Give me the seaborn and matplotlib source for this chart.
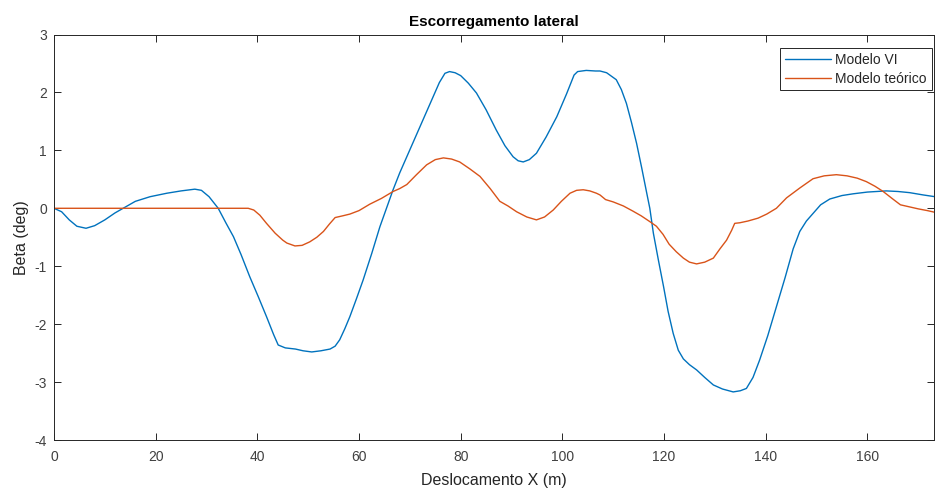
import matplotlib
matplotlib.use("Agg")
import matplotlib.pyplot as plt
import seaborn as sns
import pandas as pd

# ---- data ----
x_vi = [0, 1.5, 3, 4.5, 6.3, 8, 10, 12, 13.6, 16, 18.9, 22.2, 25, 27.7, 29, 30.5,
        32.3, 33.8, 35.3, 36.8, 38.5, 40.2, 41.8, 43.2, 44.1, 45.5, 47.5, 49, 50.7,
        52.5, 54.3, 55.3, 56.2, 57.2, 58.2, 59.5, 60.8, 62.5, 64.1, 65.4, 66.7, 68,
        69.4, 70.7, 72, 73.3, 74.6, 75.8, 76.9, 77.8, 78.9, 80, 81.5, 83.1, 85, 87,
        88.7, 90.3, 91.3, 92.3, 93.5, 94.9, 96.8, 98.9, 100.8, 102.3, 103, 104.7,
        106.5, 107.4, 108.7, 110.6, 111.6, 112.6, 113.6, 114.6, 115.6, 116.6, 117.2,
        117.9, 118.9, 119.9, 120.8, 121.8, 122.8, 123.8, 125, 126.4, 128, 129.7,
        131.5, 133.6, 135, 136.2, 137.5, 138.8, 140.4, 142.1, 143.8, 145.4, 146.7,
        148, 149.3, 150.8, 152.6, 155, 157.2, 160, 163.7, 166, 168.3, 171, 173.3]
y_vi = [0, -0.06, -0.20, -0.31, -0.345, -0.30, -0.20, -0.08, 0.0, 0.12, 0.20, 0.26,
        0.30, 0.33, 0.31, 0.20, 0.0, -0.25, -0.49, -0.80, -1.18, -1.53, -1.87,
        -2.18, -2.36, -2.41, -2.43, -2.46, -2.48, -2.46, -2.43, -2.38, -2.27, -2.08,
        -1.87, -1.56, -1.24, -0.78, -0.32, 0.0, 0.32, 0.61, 0.89, 1.15, 1.41, 1.67,
        1.93, 2.17, 2.33, 2.36, 2.34, 2.29, 2.16, 1.99, 1.70, 1.35, 1.08, 0.89, 0.82,
        0.80, 0.84, 0.95, 1.23, 1.58, 1.97, 2.30, 2.36, 2.38, 2.37, 2.37, 2.34, 2.22,
        2.05, 1.81, 1.48, 1.12, 0.70, 0.26, 0.0, -0.43, -0.90, -1.35, -1.78, -2.16,
        -2.45, -2.60, -2.70, -2.79, -2.92, -3.05, -3.12, -3.17, -3.15, -3.11, -2.92,
        -2.62, -2.20, -1.70, -1.20, -0.70, -0.40, -0.22, -0.09, 0.06, 0.16, 0.22,
        0.25, 0.28, 0.30, 0.29, 0.27, 0.23, 0.20]

x_teo = [0, 38.2, 39.3, 40.5, 41.8, 43.5, 45, 45.8, 47.4, 48.8, 50.3, 51.7, 53.0,
         54.2, 55.3, 56.8, 58.2, 60, 62.1, 64.4, 66.7, 68, 69.4, 71.3, 73.3, 75,
         76.6, 78.2, 79.8, 81.8, 83.8, 85.8, 87.7, 89.3, 91, 93, 94.9, 96.5, 98.2,
         99.8, 101.5, 102.8, 104.1, 105.4, 106.7, 107.4, 108.5, 110, 112, 113.9,
         115.5, 117.2, 118.5, 119.8, 121, 122.4, 123.8, 125, 126.4, 128, 129.7, 131,
         132.3, 133.3, 133.9, 134.9, 136.5, 138.5, 140.2, 142.1, 144.1, 146.7, 149.3,
         151.5, 153.9, 156, 158, 159.8, 161.5, 163.1, 165, 166.5, 168, 170, 171.8,
         173.3]
y_teo = [0, 0, -0.03, -0.12, -0.26, -0.43, -0.55, -0.60, -0.65, -0.64, -0.58, -0.50,
         -0.40, -0.27, -0.16, -0.13, -0.10, -0.04, 0.07, 0.17, 0.29, 0.34, 0.41, 0.58,
         0.75, 0.84, 0.87, 0.85, 0.80, 0.68, 0.55, 0.34, 0.12, 0.04, -0.06, -0.15,
         -0.20, -0.15, -0.03, 0.12, 0.26, 0.31, 0.32, 0.30, 0.26, 0.23, 0.15, 0.11,
         0.04, -0.05, -0.13, -0.23, -0.31, -0.45, -0.62, -0.75, -0.86, -0.93, -0.96,
         -0.93, -0.86, -0.70, -0.55, -0.38, -0.26, -0.25, -0.22, -0.17, -0.10, 0.0,
         0.18, 0.35, 0.51, 0.56, 0.58, 0.56, 0.52, 0.46, 0.38, 0.29, 0.16, 0.06, 0.03,
         -0.01, -0.04, -0.07]

series_names = ["Modelo VI", "Modelo teórico"]
x_ticks = [0, 20, 40, 60, 80, 100, 120, 140, 160]
y_ticks = [-4, -3, -2, -1, 0, 1, 2, 3]
title = "Escorregamento lateral"
x_label = "Deslocamento X (m)"
y_label = "Beta (deg)"

# ---- styling ----
sns.set_style("ticks")
plt.rcParams['font.family'] = ['Liberation Sans', 'DejaVu Sans']
plt.rcParams['axes.unicode_minus'] = False

dark = "#262626"
tickc = "#404040"
colors = ["#0072BD", "#D95319"]

fig = plt.figure(figsize=(9.35, 4.92), dpi=100)
ax = fig.add_axes([54 / 935, 1 - 440 / 492, (934.5 - 54) / 935, (440 - 34.5) / 492])

df_vi = pd.DataFrame({"x": x_vi, "y": y_vi})
df_teo = pd.DataFrame({"x": x_teo, "y": y_teo})
sns.lineplot(data=df_vi, x="x", y="y", ax=ax, color=colors[0], lw=1.0,
             label=series_names[0], sort=False)
sns.lineplot(data=df_teo, x="x", y="y", ax=ax, color=colors[1], lw=1.0,
             label=series_names[1], sort=False)

ax.set_xlim(0, 173.2)
ax.set_ylim(-4, 3)
ax.set_xticks(x_ticks)
ax.set_yticks(y_ticks)
ax.tick_params(direction="in", top=True, right=True, length=5, width=0.7,
               colors=dark, labelsize=10, labelcolor=tickc)
ax.tick_params(axis="x", pad=7)
ax.tick_params(axis="y", pad=5)
for s in ax.spines.values():
    s.set_visible(True)
    s.set_color(dark)
    s.set_linewidth(0.7)

ax.set_title(title, fontsize=11, fontweight="bold", color="black", pad=6)
ax.set_xlabel(x_label, fontsize=11.5, color=dark, labelpad=7)
ax.set_ylabel(y_label, fontsize=11.5, color=dark, labelpad=4)

leg = ax.legend(loc="upper right", bbox_to_anchor=(0.9966, 0.967), borderaxespad=0,
                fontsize=10, frameon=True, fancybox=False, framealpha=1,
                edgecolor=dark, handlelength=3.3, handletextpad=0.3,
                labelspacing=0.35, borderpad=0.35)
leg.get_frame().set_linewidth(0.7)
for t in leg.get_texts():
    t.set_color(dark)

fig.savefig("out.png", dpi=100)
